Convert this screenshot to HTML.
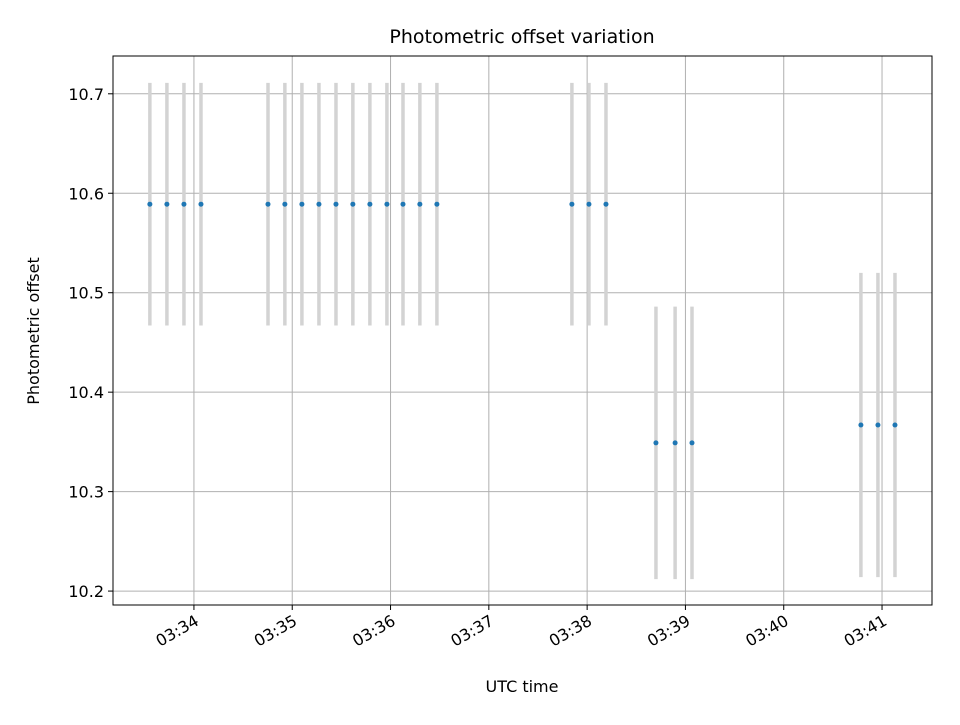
<!DOCTYPE html>
<html><head><meta charset="utf-8"><style>
body{margin:0;background:#fff;font-family:"Liberation Sans","DejaVu Sans",sans-serif}
svg text{font-family:"DejaVu Sans","Liberation Sans",sans-serif}
</style></head><body>
<svg id="chart" width="960" height="720" xmlns="http://www.w3.org/2000/svg">
<rect width="960" height="720" fill="#fff"/>
<text x="522" y="43" font-size="19" text-anchor="middle" fill="#000">Photometric offset variation</text>
<text x="522" y="692" font-size="16" text-anchor="middle">UTC time</text>
<text transform="translate(39,331) rotate(-90)" font-size="16" text-anchor="middle">Photometric offset</text>
<g id="grid"></g><g id="marks"></g><g id="axes"></g>
</svg>
<script>
// seconds since 03:33:00
const times = [33.1,43.5,53.9,64.3,105.2,115.5,125.9,136.3,146.7,157.0,167.4,177.8,187.6,197.9,208.3,290.7,301.1,311.5,342.0,353.7,364.0,467.1,477.5,487.9];
const offsets = [10.589,10.589,10.589,10.589,10.589,10.589,10.589,10.589,10.589,10.589,10.589,10.589,10.589,10.589,10.589,10.589,10.589,10.589,10.349,10.349,10.349,10.367,10.367,10.367];
const errors = [0.122,0.122,0.122,0.122,0.122,0.122,0.122,0.122,0.122,0.122,0.122,0.122,0.122,0.122,0.122,0.122,0.122,0.122,0.137,0.137,0.137,0.153,0.153,0.153];
const xTicks = [60,120,180,240,300,360,420,480];
const xTickLabels = ["03:34","03:35","03:36","03:37","03:38","03:39","03:40","03:41"];
const yTicks = [10.2,10.3,10.4,10.5,10.6,10.7];
const yTickLabels = ["10.2","10.3","10.4","10.5","10.6","10.7"];

const L=113,R=932,T=56,B=605, x0=10.6,x1=510.5, y0=10.186,y1=10.738;
const sx=v=>L+(v-x0)/(x1-x0)*(R-L);
const sy=v=>B-(v-y0)/(y1-y0)*(B-T);
const NS="http://www.w3.org/2000/svg";
function mk(tag,attrs,parent,txt){const e=document.createElementNS(NS,tag);for(const k in attrs)e.setAttribute(k,attrs[k]);if(txt!==undefined)e.textContent=txt;parent.appendChild(e);return e;}
const grid=document.getElementById('grid'),marks=document.getElementById('marks'),axes=document.getElementById('axes');
xTicks.forEach((t,i)=>{
  const x=sx(t);
  const g=mk('line',{x1:x,x2:x,y1:T,y2:B,stroke:'#b0b0b0','stroke-width':1},grid);
  
  
  const tk=mk('line',{x1:x,x2:x,y1:B,y2:B+5,stroke:'#000'},axes);
  
  
  const ax=x+6, ay=B+19;
  const lb=mk('text',{x:ax,y:ay,'font-size':16,'text-anchor':'end',transform:`rotate(-30 ${ax} ${ay})`},axes,xTickLabels[i]);
  
  
});
yTicks.forEach((v,i)=>{
  const y=sy(v);
  const g=mk('line',{x1:L,x2:R,y1:y,y2:y,stroke:'#b0b0b0','stroke-width':1},grid);
  
  
  const tk=mk('line',{x1:L-5,x2:L,y1:y,y2:y,stroke:'#000'},axes);
  
  
  const lb=mk('text',{x:L-9,y:y+6,'font-size':16,'text-anchor':'end'},axes,yTickLabels[i]);
  
  
});
times.forEach((t,i)=>{
  const x=sx(t);
  const eb=mk('line',{x1:x,x2:x,y1:sy(offsets[i]+errors[i]),y2:sy(offsets[i]-errors[i]),stroke:'#d3d3d3','stroke-width':3.5},marks);
  
  
});
times.forEach((t,i)=>{
  const p=mk('circle',{cx:sx(t),cy:sy(offsets[i]),r:2.5,fill:'#1f77b4'},marks);
  
  
});
const fr=mk('rect',{x:L,y:T,width:R-L,height:B-T,fill:'none',stroke:'#000','stroke-width':1},axes);


</script>
</body></html>
